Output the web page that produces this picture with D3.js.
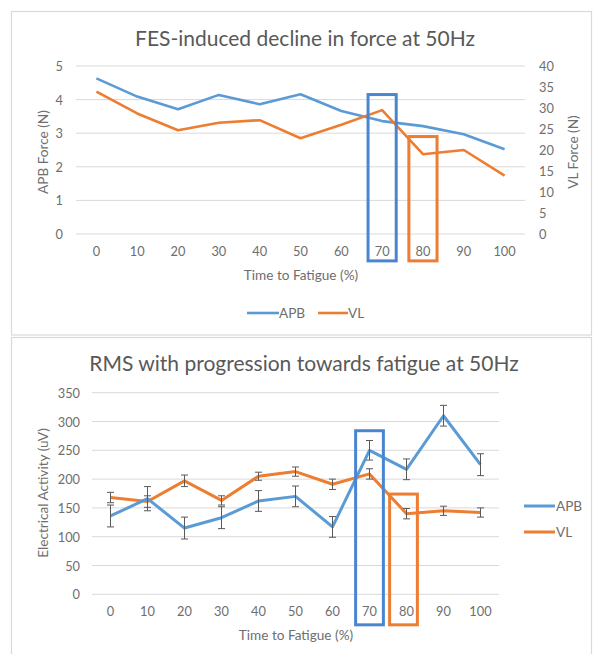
<!DOCTYPE html>
<html><head><meta charset="utf-8">
<script src="https://cdn.jsdelivr.net/npm/d3@7"></script>
<style>
body{margin:0;background:#fff;}
svg{display:block;font-family:Lato,"Open Sans",sans-serif;}
</style></head>
<body><svg id="c" width="595" height="654"></svg>
<script>
// ---------- data ----------
const categories = ["0","10","20","30","40","50","60","70","80","90","100"];
// Chart 1: force
const apbForce = [4.63,4.09,3.71,4.14,3.86,4.16,3.66,3.36,3.21,2.97,2.52];
const vlForce  = [33.9,28.7,24.7,26.5,27.1,22.8,26.0,29.5,19.0,20.0,13.9];
const forceLeftTicks  = [0,1,2,3,4,5];
const forceRightTicks = [0,5,10,15,20,25,30,35,40];
// Chart 2: RMS
const apbRms    = [136,166,115,133,162,170,117,250,217,310,225];
const apbRmsErr = [19,21,19,19,18,18,18,17,18,18,19];
const vlRms     = [168,161,197,163,205,213,191,209,140,145,142];
const vlRmsErr  = [9,10,10,8,7,8,9,9,9,8,8];
const rmsTicks  = [0,50,100,150,200,250,300,350];
// Highlight boxes (category, top value, bottom value on each chart's main axis)
const highlightCats   = ["70","80"];
const forceBoxTop     = [4.15, 2.9];
const forceBoxBottom  = -0.8;
const rmsBoxTop       = [284, 174];
const rmsBoxBottom    = -53;
const seriesNames = ["APB","VL"];

// ---------- style ----------
const BLUE="#5B9BD5", ORANGE="#ED7D31", BOXBLUE="#4A86CF", GRID="#D9D9D9", TXT="#595959", TICK="#6E6E6E";
const svg = d3.select("#c");

// panel borders
svg.append("rect").attr("x",11.5).attr("y",11.5).attr("width",580).attr("height",323.5)
  .attr("fill","none").attr("stroke","#D9D9D9").attr("stroke-width",1.2);
svg.append("rect").attr("x",11.5).attr("y",337.5).attr("width",580).attr("height",330)
  .attr("fill","none").attr("stroke","#D9D9D9").attr("stroke-width",1.2);

function text(x,y,s,opt={}){
  const t = svg.append("text").attr("x",x).attr("y",y).text(s)
    .attr("fill",opt.fill||TICK).attr("font-size",opt.size||12.8)
    .attr("text-anchor",opt.anchor||"middle").attr("dominant-baseline","central");
  if(opt.rotate) t.attr("transform",`rotate(${opt.rotate},${x},${y})`);
  return t;
}
const AX = {size:13.6};

// =========== Chart 1 ===========
{
  const x = d3.scaleBand().domain(categories).range([76,525]);
  const cx = c => x(c)+x.bandwidth()/2;
  const yL = d3.scaleLinear().domain([0,5]).range([234,66]);
  const yR = d3.scaleLinear().domain([0,40]).range([234,66]);
  const g = svg.append("g");
  g.selectAll("line.grid").data(forceLeftTicks).join("line")
    .attr("x1",76).attr("x2",525).attr("y1",d=>yL(d)).attr("y2",d=>yL(d))
    .attr("stroke",GRID).attr("stroke-width",1);
  forceLeftTicks.forEach(t=>text(63,yL(t),t,{anchor:"end"}));
  forceRightTicks.forEach(t=>text(539,yR(t),t,{anchor:"start"}));
  categories.forEach(c=>text(cx(c),251,c));
  text(301,275,"Time to Fatigue (%)",AX);
  text(43,152,"APB Force (N)",{...AX,rotate:-90});
  text(573,152,"VL Force (N)",{...AX,rotate:-90});
  text(305,37,"FES-induced decline in force at 50Hz",{size:21,fill:TXT});
  const lineL = d3.line().x((d,i)=>cx(categories[i])).y(d=>yL(d));
  const lineR = d3.line().x((d,i)=>cx(categories[i])).y(d=>yR(d));
  g.append("path").attr("d",lineL(apbForce)).attr("fill","none").attr("stroke",BLUE)
    .attr("stroke-width",2.6).attr("stroke-linejoin","round");
  g.append("path").attr("d",lineR(vlForce)).attr("fill","none").attr("stroke",ORANGE)
    .attr("stroke-width",2.6).attr("stroke-linejoin","round");
  const bw = x.bandwidth()*0.69;
  highlightCats.forEach((c,i)=>{
    g.append("rect").attr("x",cx(c)-bw/2).attr("y",yL(forceBoxTop[i]))
      .attr("width",bw).attr("height",yL(forceBoxBottom)-yL(forceBoxTop[i]))
      .attr("fill","none").attr("stroke",i===0?BOXBLUE:ORANGE).attr("stroke-width",3);
  });
  const lg = [[247,279,BLUE,seriesNames[0],279],[318,348,ORANGE,seriesNames[1],348]];
  lg.forEach(([a,b,col,name,tx])=>{
    svg.append("line").attr("x1",a).attr("x2",b).attr("y1",313).attr("y2",313)
      .attr("stroke",col).attr("stroke-width",2.6);
    text(tx,313,name,{...AX,anchor:"start"});
  });
}

// =========== Chart 2 ===========
{
  const x = d3.scaleBand().domain(categories).range([92,499]);
  const cx = c => x(c)+x.bandwidth()/2;
  const y = d3.scaleLinear().domain([0,350]).range([594.3,392.7]);
  const g = svg.append("g");
  g.selectAll("line.grid").data(rmsTicks).join("line")
    .attr("x1",92).attr("x2",499).attr("y1",d=>y(d)).attr("y2",d=>y(d))
    .attr("stroke",GRID).attr("stroke-width",1);
  rmsTicks.forEach(t=>text(80,y(t),t,{anchor:"end"}));
  categories.forEach(c=>text(cx(c),611,c));
  text(296,635,"Time to Fatigue (%)",AX);
  text(43,493,"Electrical Activity (uV)",{...AX,rotate:-90});
  text(304,362,"RMS with progression towards fatigue at 50Hz",{size:21,fill:TXT});
  const line = d3.line().x((d,i)=>cx(categories[i])).y(d=>y(d));
  g.append("path").attr("d",line(vlRms)).attr("fill","none").attr("stroke",ORANGE)
    .attr("stroke-width",3).attr("stroke-linejoin","round");
  g.append("path").attr("d",line(apbRms)).attr("fill","none").attr("stroke",BLUE)
    .attr("stroke-width",3).attr("stroke-linejoin","round");
  function errs(vals,err){
    vals.forEach((v,i)=>{
      const xx = cx(categories[i]);
      const t = y(v+err[i]), b = y(v-err[i]);
      g.append("line").attr("x1",xx).attr("x2",xx).attr("y1",t).attr("y2",b).attr("stroke","#595959").attr("stroke-width",1);
      [t,b].forEach(yy=>g.append("line").attr("x1",xx-3.5).attr("x2",xx+3.5).attr("y1",yy).attr("y2",yy).attr("stroke","#595959").attr("stroke-width",1));
    });
  }
  errs(apbRms,apbRmsErr);
  errs(vlRms,vlRmsErr);
  const bw = x.bandwidth()*0.75;
  highlightCats.forEach((c,i)=>{
    const off = i===0?0:-3;
    g.append("rect").attr("x",cx(c)-bw/2+off).attr("y",y(rmsBoxTop[i]))
      .attr("width",bw).attr("height",y(rmsBoxBottom)-y(rmsBoxTop[i]))
      .attr("fill","none").attr("stroke",i===0?BOXBLUE:ORANGE).attr("stroke-width",3);
  });
  const lg=[[506,BLUE,seriesNames[0]],[532,ORANGE,seriesNames[1]]];
  lg.forEach(([yy,col,name])=>{
    svg.append("line").attr("x1",524).attr("x2",555).attr("y1",yy).attr("y2",yy)
      .attr("stroke",col).attr("stroke-width",3);
    text(556,yy,name,{...AX,anchor:"start"});
  });
}
</script></body></html>
